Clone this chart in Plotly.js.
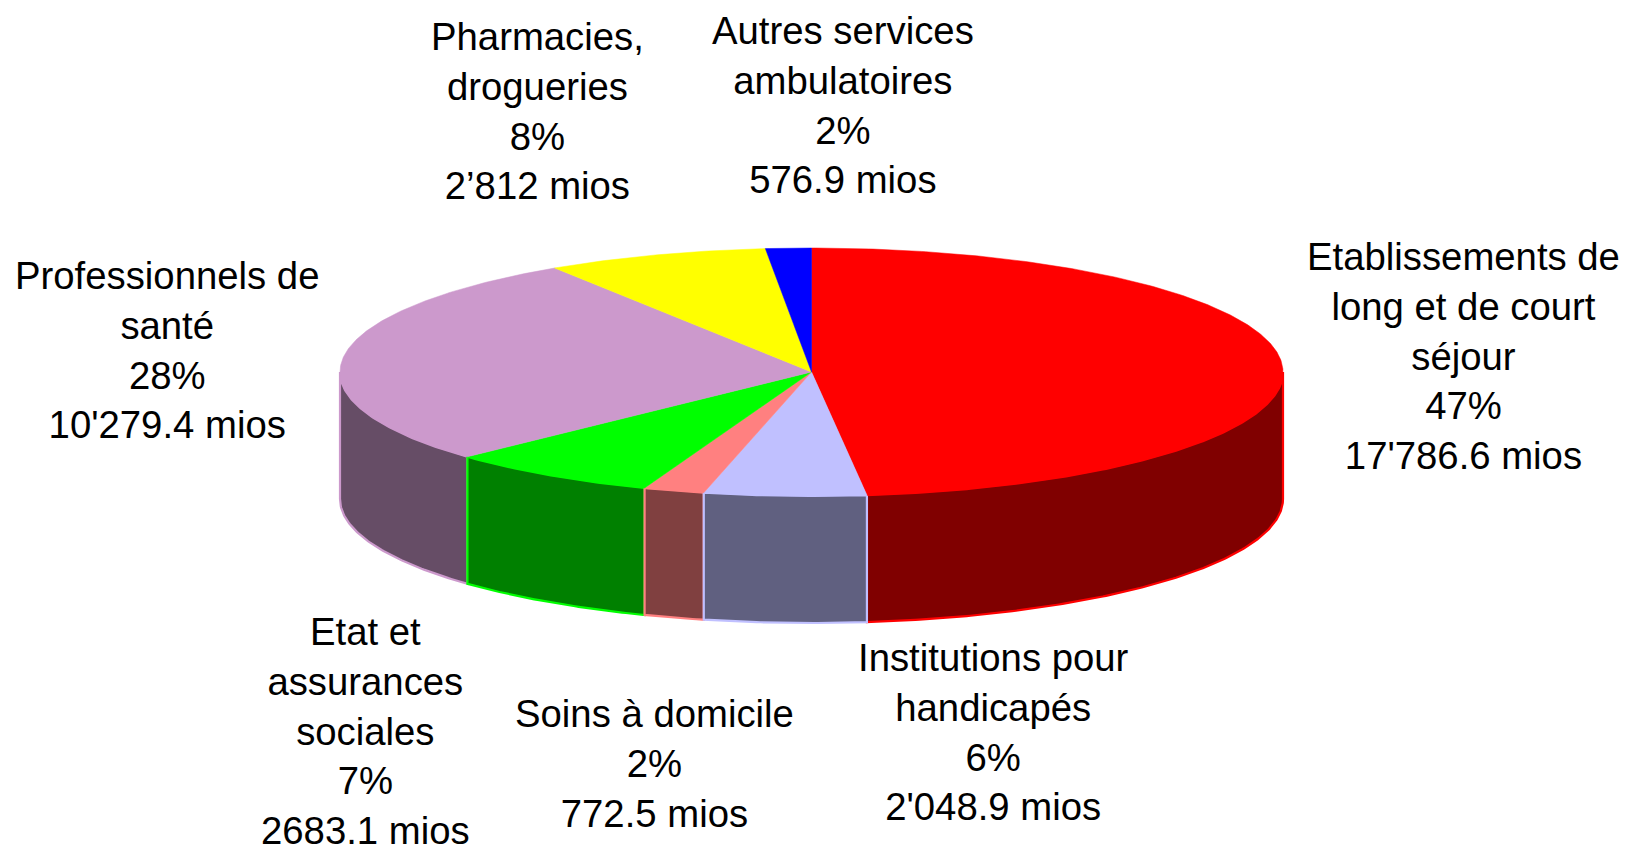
<!DOCTYPE html>
<html>
<head>
<meta charset="utf-8">
<script src="https://cdn.plot.ly/plotly-3.0.1.min.js"></script>
<style>html,body{margin:0;padding:0;background:#fff;overflow:hidden}#chart{width:1628px;height:845px}</style>
</head>
<body>
<div id="chart"></div>
<script>
// ---- Data (clockwise from 12 o'clock) ----
const categories = ["Etablissements de<br>long et de court<br>séjour", "Institutions pour<br>handicapés", "Soins à domicile", "Etat et<br>assurances<br>sociales", "Professionnels de<br>santé", "Pharmacies,<br>drogueries", "Autres services<br>ambulatoires"];
const values = [17786.6, 2048.9, 772.5, 2683.1, 10279.4, 2812, 576.9];
const percentLabels = ["47%", "6%", "2%", "7%", "28%", "8%", "2%"];
const valueLabels = ["17'786.6 mios", "2'048.9 mios", "772.5 mios", "2683.1 mios", "10'279.4 mios", "2’812 mios", "576.9 mios"];

// ---- Styles ----
const topColors = ["#FF0000", "#C0C0FF", "#FF8080", "#00FF00", "#CC99CC", "#FFFF00", "#0000FF"];
const sideColors = ["#800000", "#606080", "#804040", "#008000", "#664D66", "#808000", "#000080"];
const sideOrder = [4, 3, 2, 0, 1];

// ---- Layout of the drawing (pixels of the 1628x845 page) ----
const CX = 811.5, CY = 372, RX = 471.5, RY = 124, DEPTH = 127;
const labelX = [1463, 993, 654, 365.5, 167, 537, 843];
const labelY = [356, 732, 763, 730.5, 349.5, 110.6, 105];

const total = values.reduce((a, b) => a + b, 0);
let cum = 0;
const spans = values.map(v => { const s = cum / total * 360; cum += v; return [s, cum / total * 360]; });

const px = d => CX + RX * Math.sin(d * Math.PI / 180);
const py = d => CY - RY * Math.cos(d * Math.PI / 180);
function arc(a, b) {
  const out = [], n = Math.max(2, Math.ceil((b - a) / 0.5));
  for (let i = 0; i <= n; i++) out.push(a + (b - a) * i / n);
  return out;
}
const traces = [];
// side walls: only the front half of the cylinder is visible
sideOrder.forEach(i => {
  const a = Math.max(spans[i][0], 90), b = Math.min(spans[i][1], 270);
  if (b <= a) return;
  const deg = arc(a, b), rev = deg.slice().reverse();
  traces.push({
    type: "scatter", mode: "lines", fill: "toself", fillcolor: sideColors[i],
    x: deg.map(px).concat(rev.map(px), [px(a)]),
    y: deg.map(d => py(d)).concat(rev.map(d => py(d) + DEPTH), [py(a)]),
    line: { color: topColors[i], width: 2.2 }, hoverinfo: "skip", showlegend: false
  });
});
// top face
values.forEach((v, i) => {
  const deg = arc(spans[i][0], spans[i][1]);
  traces.push({
    type: "scatter", mode: "lines", fill: "toself", fillcolor: topColors[i],
    x: [CX].concat(deg.map(px), [CX]),
    y: [CY].concat(deg.map(py), [CY]),
    line: { color: topColors[i], width: 0.5 }, hoverinfo: "skip", showlegend: false
  });
});

const annotations = categories.map((c, i) => ({
  x: labelX[i], y: labelY[i], xref: "x", yref: "y",
  text: c + "<br>" + percentLabels[i] + "<br>" + valueLabels[i],
  showarrow: false, xanchor: "center", yanchor: "middle", align: "center",
  font: { family: "Liberation Sans, Arial, sans-serif", size: 38.3, color: "#000" }
}));

Plotly.newPlot("chart", traces, {
  width: 1628, height: 845,
  margin: { l: 0, r: 0, t: 0, b: 0 },
  paper_bgcolor: "#fff", plot_bgcolor: "#fff", showlegend: false,
  xaxis: { range: [0, 1628], visible: false, fixedrange: true },
  yaxis: { range: [845, 0], visible: false, fixedrange: true },
  annotations
}, { displayModeBar: false, staticPlot: true });
</script>
</body>
</html>
